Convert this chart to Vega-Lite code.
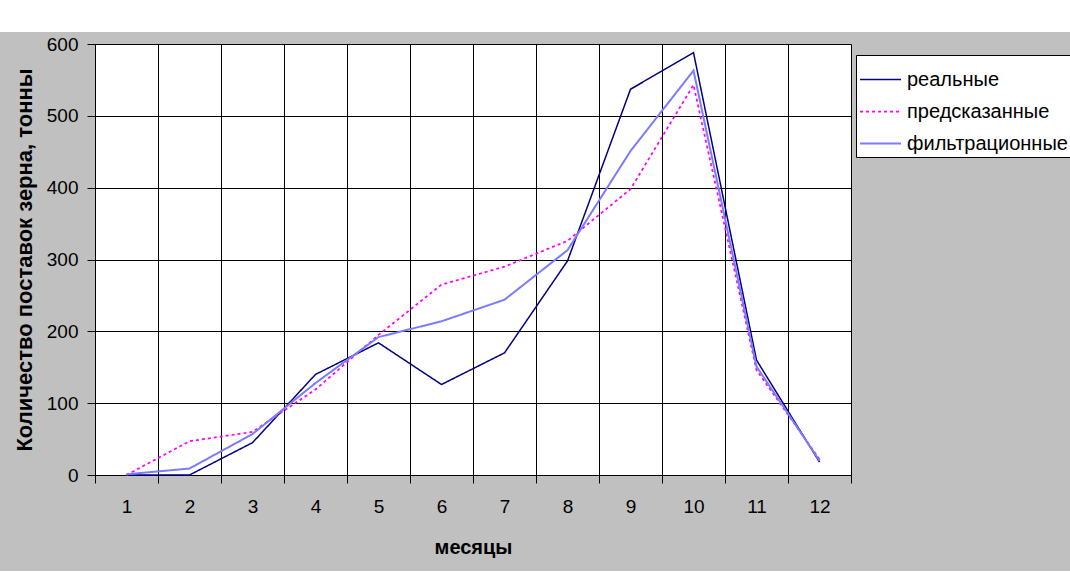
{
  "$schema": "https://vega.github.io/schema/vega-lite/v6.json",
  "background": "#c0c0c0",
  "padding": {"left": 0, "top": 0, "right": 0, "bottom": 14},
  "config": {
    "font": "Liberation Sans",
    "concat": {"spacing": 3}
  },
  "vconcat": [
    {
      "width": 1070,
      "height": 32,
      "view": {"fill": "white", "stroke": null},
      "data": {"values": [{"a": 1}]},
      "mark": {"type": "text", "text": ""}
    },
    {
      "spacing": 12,
      "hconcat": [
        {
          "width": 1,
          "height": 1,
          "view": {"fill": null, "stroke": null},
          "data": {"values": [{"a": 1}]},
          "mark": {"type": "text", "text": ""}
        },
        {
          "width": 756,
          "height": 431,
          "view": {"fill": "white", "stroke": null},
          "data": {
            "values": [
              {"month": 1, "series": "реальные", "value": 0},
              {"month": 2, "series": "реальные", "value": 0},
              {"month": 3, "series": "реальные", "value": 45},
              {"month": 4, "series": "реальные", "value": 140},
              {"month": 5, "series": "реальные", "value": 184},
              {"month": 6, "series": "реальные", "value": 126},
              {"month": 7, "series": "реальные", "value": 170},
              {"month": 8, "series": "реальные", "value": 298},
              {"month": 9, "series": "реальные", "value": 537},
              {"month": 10, "series": "реальные", "value": 588},
              {"month": 11, "series": "реальные", "value": 160},
              {"month": 12, "series": "реальные", "value": 18},
              {"month": 1, "series": "предсказанные", "value": 0},
              {"month": 2, "series": "предсказанные", "value": 47},
              {"month": 3, "series": "предсказанные", "value": 60},
              {"month": 4, "series": "предсказанные", "value": 119},
              {"month": 5, "series": "предсказанные", "value": 195},
              {"month": 6, "series": "предсказанные", "value": 265},
              {"month": 7, "series": "предсказанные", "value": 290},
              {"month": 8, "series": "предсказанные", "value": 326},
              {"month": 9, "series": "предсказанные", "value": 398},
              {"month": 10, "series": "предсказанные", "value": 543},
              {"month": 11, "series": "предсказанные", "value": 146},
              {"month": 12, "series": "предсказанные", "value": 22},
              {"month": 1, "series": "фильтрационные", "value": 1},
              {"month": 2, "series": "фильтрационные", "value": 9},
              {"month": 3, "series": "фильтрационные", "value": 57},
              {"month": 4, "series": "фильтрационные", "value": 128},
              {"month": 5, "series": "фильтрационные", "value": 192},
              {"month": 6, "series": "фильтрационные", "value": 214},
              {"month": 7, "series": "фильтрационные", "value": 244},
              {"month": 8, "series": "фильтрационные", "value": 313},
              {"month": 9, "series": "фильтрационные", "value": 451},
              {"month": 10, "series": "фильтрационные", "value": 563},
              {"month": 11, "series": "фильтрационные", "value": 151},
              {"month": 12, "series": "фильтрационные", "value": 20}
            ]
          },
          "mark": {"type": "line", "strokeCap": "butt"},
          "encoding": {
            "x": {
              "field": "month",
              "type": "ordinal",
              "bandPosition": 0.5,
              "scale": {"type": "band", "paddingInner": 0, "paddingOuter": 0},
              "axis": {
                "title": "месяцы",
                "labelAngle": 0,
                "tickBand": "extent",
                "domainColor": "black",
                "tickColor": "black",
                "tickSize": 8,
                "labelFontSize": 19,
                "labelColor": "black",
                "labelPadding": 14,
                "grid": true,
                "gridColor": "black",
                "gridOpacity": 1,
                "titleFontSize": 20,
                "titleFontWeight": "bold",
                "titleColor": "black",
                "titlePadding": 21
              }
            },
            "y": {
              "field": "value",
              "type": "quantitative",
              "scale": {"domain": [0, 600], "nice": false},
              "axis": {
                "title": "Количество поставок зерна, тонны",
                "values": [0, 100, 200, 300, 400, 500, 600],
                "domainColor": "black",
                "tickColor": "black",
                "tickSize": 8,
                "labelFontSize": 19,
                "labelColor": "black",
                "labelPadding": 9,
                "grid": true,
                "gridColor": "black",
                "gridOpacity": 1,
                "titleFontSize": 22,
                "titleFontWeight": "bold",
                "titleColor": "black",
                "titlePadding": 10
              }
            },
            "color": {
              "field": "series",
              "type": "nominal",
              "scale": {
                "domain": ["реальные", "предсказанные", "фильтрационные"],
                "range": ["#000080", "#ff00ff", "#7b7bff"]
              },
              "legend": {
                "title": null,
                "orient": "none",
                "legendX": 856,
                "legendY": 55,
                "fillColor": "white",
                "strokeColor": "black",
                "padding": 3,
                "symbolType": "stroke",
                "symbolSize": 1681,
                "labelOffset": 5,
                "labelFontSize": 20,
                "labelColor": "black",
                "labelLimit": 300,
                "rowPadding": 0
              }
            },
            "strokeDash": {
              "field": "series",
              "type": "nominal",
              "scale": {
                "domain": ["реальные", "предсказанные", "фильтрационные"],
                "range": [[1, 0], [3, 3], [1, 0]]
              }
            },
            "strokeWidth": {
              "field": "series",
              "type": "nominal",
              "scale": {
                "domain": ["реальные", "предсказанные", "фильтрационные"],
                "range": [1.5, 2, 2]
              }
            }
          }
        }
      ]
    }
  ]
}
